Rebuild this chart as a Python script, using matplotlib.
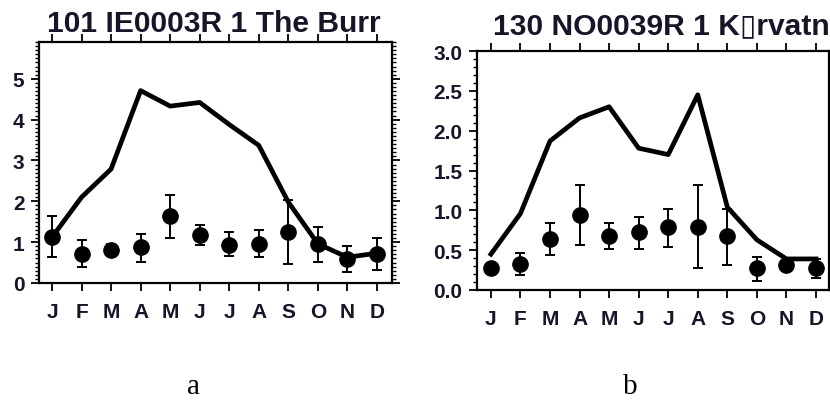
import matplotlib
matplotlib.use("Agg")
import matplotlib.pyplot as plt
import numpy as np
from matplotlib.ticker import MultipleLocator

months = ["J", "F", "M", "A", "M", "J", "J", "A", "S", "O", "N", "D"]

title_a = "101 IE0003R 1 The Burr"
line_a = [1.12, 2.10, 2.79, 4.71, 4.33, 4.42, 3.88, 3.37, 1.98, 0.96, 0.63, 0.73]
pts_a = [1.12, 0.71, 0.82, 0.87, 1.63, 1.18, 0.94, 0.96, 1.26, 0.96, 0.59, 0.71]
lo_a = [0.63, 0.38, 0.67, 0.52, 1.09, 0.94, 0.67, 0.63, 0.47, 0.52, 0.28, 0.33]
hi_a = [1.63, 1.06, 0.96, 1.20, 2.16, 1.43, 1.24, 1.30, 2.02, 1.38, 0.90, 1.10]

title_b = "130 NO0039R 1 K\u25AFrvatn"
line_b = [0.45, 0.96, 1.87, 2.16, 2.30, 1.78, 1.70, 2.45, 1.04, 0.63, 0.39, 0.39]
pts_b = [0.28, 0.33, 0.64, 0.94, 0.68, 0.73, 0.79, 0.79, 0.68, 0.28, 0.32, 0.27]
lo_b = [0.25, 0.19, 0.44, 0.56, 0.51, 0.52, 0.54, 0.27, 0.32, 0.11, 0.29, 0.15]
hi_b = [0.31, 0.46, 0.84, 1.32, 0.84, 0.92, 1.02, 1.32, 1.02, 0.41, 0.36, 0.39]

yticks_a = [0, 1, 2, 3, 4, 5]
yticklabels_a = ["0", "1", "2", "3", "4", "5"]
yticks_b = [0.0, 0.5, 1.0, 1.5, 2.0, 2.5, 3.0]
yticklabels_b = ["0.0", "0.5", "1.0", "1.5", "2.0", "2.5", "3.0"]

W, H = 830, 402
fig = plt.figure(figsize=(W / 100, H / 100), dpi=100)
fig.patch.set_facecolor("white")

FONT = ["Liberation Sans", "DejaVu Sans"]
TXT = "#161628"


def px_axes(l, r, t, b):
    return [l / W, (H - b) / H, (r - l) / W, (b - t) / H]


def draw(rect, line, pts, lo, hi, yticks, ylabels, ylim, xlim, minor):
    ax = fig.add_axes(px_axes(*rect))
    x = np.arange(1, 13)
    pts = np.array(pts)
    yerr = [pts - np.array(lo), np.array(hi) - pts]
    ax.plot(x, line, color="black", lw=3.4, zorder=3)
    ax.errorbar(x, pts, yerr=yerr, fmt="o", color="black", ms=11,
                ecolor="black", elinewidth=1.4, capsize=3.8, capthick=1.4,
                zorder=4)
    ax.set_xlim(*xlim)
    ax.set_ylim(*ylim)
    ax.set_xticks(x)
    ax.set_xticklabels(months, fontfamily=FONT, fontweight="bold",
                       fontsize=15, color=TXT)
    ax.set_yticks(yticks)
    ax.set_yticklabels(ylabels, fontfamily=FONT, fontweight="bold",
                       fontsize=15, color=TXT)
    ax.yaxis.set_minor_locator(MultipleLocator(minor))
    ax.tick_params(axis="x", which="major", direction="out", length=5.5,
                   width=1.3, top=True, bottom=True, pad=8)
    ax.tick_params(axis="y", which="major", direction="out", length=5.5,
                   width=1.3, left=True, right=True, pad=5)
    ax.tick_params(axis="y", which="minor", direction="out", length=3.2,
                   width=1.0, left=True, right=True)
    ax.tick_params(axis="x", which="minor", bottom=False, top=False)
    for s in ax.spines.values():
        s.set_linewidth(1.6)
    return ax


draw((39, 392, 43, 284), line_a, pts_a, lo_a, hi_a, yticks_a, yticklabels_a,
     (0, 5.9), (0.56, 12.51), 0.1)
draw((477, 829, 52, 291), line_b, pts_b, lo_b, hi_b, yticks_b, yticklabels_b,
     (0, 3.0), (0.53, 12.44), 0.1)

fig.text(47 / W, (H - 32) / H, title_a, fontfamily=FONT, fontweight="bold",
         fontsize=21.6, color=TXT, ha="left", va="baseline")
fig.text(493 / W, (H - 34) / H, title_b, fontfamily=FONT, fontweight="bold",
         fontsize=21.6, color=TXT, ha="left", va="baseline")

fig.text(193 / W, (H - 394) / H, "a", fontfamily=["Liberation Serif", "DejaVu Serif"],
         fontsize=21, color="black", ha="center", va="baseline")
fig.text(630 / W, (H - 394) / H, "b", fontfamily=["Liberation Serif", "DejaVu Serif"],
         fontsize=21, color="black", ha="center", va="baseline")

fig.savefig("out.png", dpi=100, facecolor="white")
